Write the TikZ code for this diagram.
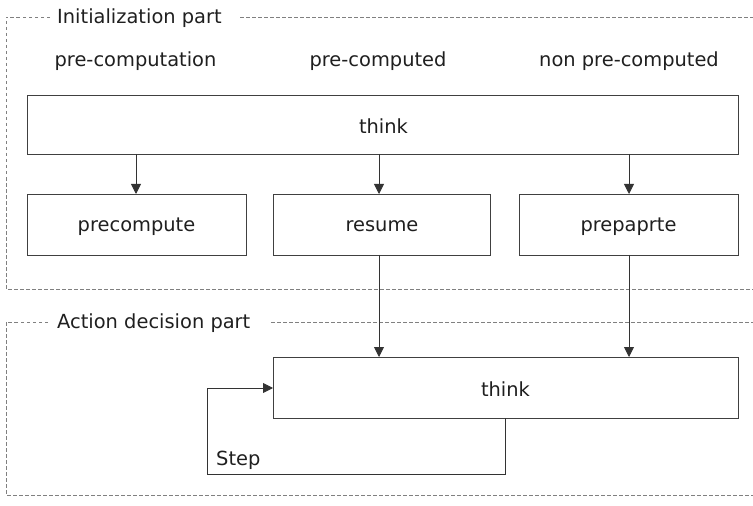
\documentclass[tikz,border=0pt]{standalone}
\usepackage{fontspec}
\setmainfont{DejaVu Sans}
\usetikzlibrary{arrows.meta}
\begin{document}
\begin{tikzpicture}[x=1bp,y=-1bp,
  every node/.style={font=\fontsize{19.5}{23}\selectfont, text=black!88, anchor=base, inner sep=0pt},
  block/.style={draw=black!75, line width=0.9bp},
  frame/.style={draw=black!50, line width=0.7bp, dash pattern=on 3.5bp off 2.5bp},
  flow/.style={draw=black!80, line width=0.9bp, -{Triangle[length=10bp,width=10bp]}}]
\useasboundingbox (0,0) rectangle (753,506);
\clip (0,0) rectangle (753,506);

% dashed group frames, open towards the right edge, broken by their titles
\draw[frame] (50,17) -- (6,17) -- (6,289) -- (770,289);
\draw[frame] (240,17) -- (770,17);
\draw[frame] (48,322) -- (6,322) -- (6,495) -- (770,495);
\draw[frame] (271,322) -- (770,322);
\node[anchor=base west] (initlbl) at (57,23.5) {Initialization part};
\node[anchor=base west] (actlbl) at (57,328.5) {Action decision part};

% column headers
\node (hpc) at (135.5,67) {pre-computation};
\node (hpd) at (378,67) {pre-computed};
\node (hnp) at (629,67) {non pre-computed};

% initialization blocks
\path[block] (27,95) rectangle (738,154);
\node (think1) at (383.5,133.5) {think};
\coordinate (t1a) at (136,154);
\coordinate (t1b) at (379,154);
\coordinate (t1c) at (629,154);

\path[block] (27,194) rectangle (246,255);
\node (precompute) at (136.5,232) {precompute};
\path[block] (273,194) rectangle (490,255);
\node (resume) at (382,232) {resume};
\path[block] (519,194) rectangle (738,255);
\node (prepaprte) at (628.5,232) {prepaprte};

\coordinate (pa) at (136,194);
\coordinate (pb) at (379,194);
\coordinate (pc) at (629,194);
\coordinate (rb) at (379,255);
\coordinate (rc) at (629,255);

\draw[flow] (t1a) -- (pa);
\draw[flow] (t1b) -- (pb);
\draw[flow] (t1c) -- (pc);

% action decision block
\path[block] (273,357) rectangle (738,418);
\node (think2) at (505.5,396.5) {think};
\coordinate (ta) at (379,357);
\coordinate (tb) at (629,357);
\coordinate (tin) at (273,388);
\coordinate (tout) at (505,418);

\draw[flow] (rb) -- (ta);
\draw[flow] (rc) -- (tb);

% step loop
\coordinate (lbr) at (505,474);
\coordinate (lbl) at (207,474);
\coordinate (ltl) at (207,388);
\draw[flow] (tout) -- (lbr) -- (lbl) -- (ltl) -- (tin);
\node[anchor=base west] (step) at (216,465) {Step};
\end{tikzpicture}
\end{document}
